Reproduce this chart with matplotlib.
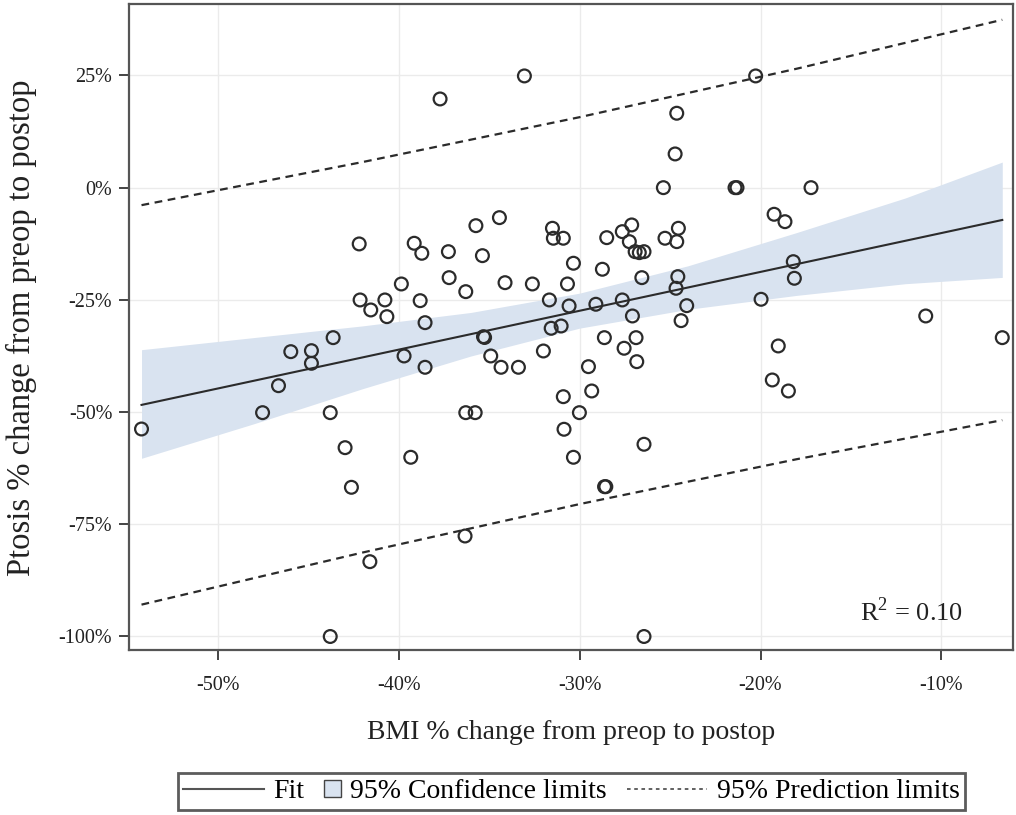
import numpy as np
import matplotlib
matplotlib.use("Agg")
import matplotlib.pyplot as plt
from matplotlib.patches import Patch, Rectangle
from matplotlib.lines import Line2D
from matplotlib.legend_handler import HandlerPatch

plt.rcParams['font.family'] = ['Liberation Serif', 'DejaVu Serif']
plt.rcParams['mathtext.fontset'] = 'custom'
plt.rcParams['mathtext.rm'] = 'Liberation Serif'

# ---- data (percent) ----
bmi_change = [
    -42.18, -39.14, -38.72, -39.85, -42.13, -41.54, -40.76, -40.65, -38.81, -38.54,
    -43.62, -45.96, -44.82, -44.82, -39.70, -38.54, -46.64, -47.52, -43.78, -54.21,
    -42.96, -39.33, -42.61, -41.59, -43.78, -36.29, -35.77, -30.01, -30.86, -30.34,
    -26.44, -28.55, -28.62, -36.33, -26.44, -25.37, -24.72, -24.63, -35.73, -34.43,
    -31.50, -31.45, -30.90, -28.50, -27.64, -27.12, -27.25, -26.93, -26.70, -26.44,
    -25.28, -24.54, -24.63, -37.25, -35.37, -30.34, -28.74, -26.56, -37.21, -36.29,
    -34.12, -32.61, -30.67, -24.57, -24.67, -31.67, -30.58, -29.10, -27.64, -24.08,
    -27.08, -24.39, -35.31, -35.25, -31.57, -31.02, -28.63, -26.88, -34.91, -34.34,
    -33.38, -32.00, -27.54, -26.84, -29.51, -30.90, -29.33, -37.71, -33.05, -20.27,
    -21.41, -21.30, -17.21, -19.25, -18.65, -18.19, -18.13, -19.97, -10.87, -6.64,
    -19.02, -19.35, -18.46,
]
ptosis_change = [
    -12.54, -12.39, -14.62, -21.46, -25.02, -27.25, -25.02, -28.74, -25.18, -30.08,
    -33.42, -36.54, -36.32, -39.13, -37.50, -40.02, -44.12, -50.13, -50.13, -53.77,
    -57.93, -60.07, -66.76, -83.33, -100.0, -50.13, -50.13, -50.13, -53.83, -60.07,
    -57.17, -66.62, -66.62, -77.61, -100.0, 0.0, 7.51, 16.58, -8.47, -6.68,
    -9.05, -11.27, -11.27, -11.14, -9.80, -8.31, -12.03, -14.26, -14.48, -14.26,
    -11.27, -9.05, -12.03, -14.26, -15.15, -16.84, -18.18, -20.05, -20.05, -23.17,
    -21.17, -21.46, -21.46, -19.83, -22.42, -25.02, -26.36, -25.98, -25.02, -26.29,
    -28.59, -29.63, -33.20, -33.38, -31.33, -30.82, -33.42, -33.42, -37.50, -40.02,
    -40.02, -36.39, -35.78, -38.77, -39.88, -46.57, -45.30, 19.76, 24.89, 24.89,
    0.0, 0.0, 0.0, -5.93, -7.58, -16.49, -20.19, -24.87, -28.59, -33.42,
    -35.27, -42.85, -45.30,
]

fit_x = [-54.21, -6.64]
fit_y = [-48.4, -7.2]

ci_x = [-54.21, -48, -42, -36, -30, -24, -18, -12, -6.64]
ci_upper = [-36.1, -33.4, -30.8, -27.8, -23.5, -17.4, -10.0, -2.3, 5.7]
ci_lower = [-60.3, -52.6, -44.8, -37.5, -31.3, -27.1, -24.0, -21.4, -20.0]

pi_x = [-54.21, -42, -30, -18, -6.64]
pi_upper = [-3.9, 5.7, 15.7, 26.5, 37.4]
pi_lower = [-92.9, -81.3, -70.5, -60.5, -51.8]

x_ticks = [-50, -40, -30, -20, -10]
y_ticks = [25, 0, -25, -50, -75, -100]
r2_text = 'R$^{2}$ = 0.10'

band_color = '#d9e3f0'
ink = '#2b2b2b'


class SquareHandler(HandlerPatch):
    # small square swatch instead of a wide rectangle
    def legend_artist(self, legend, orig_handle, fontsize, handlebox):
        side = 12.0
        handlebox.width = side
        y0 = (handlebox.height - side) / 2 - handlebox.ydescent
        rect = Rectangle((-handlebox.xdescent, y0), side, side,
                         facecolor=orig_handle.get_facecolor(),
                         edgecolor=orig_handle.get_edgecolor(), linewidth=1.0,
                         transform=handlebox.get_transform())
        handlebox.add_artist(rect)
        return rect


fig = plt.figure(figsize=(10.16, 8.15), dpi=100)
ax = fig.add_axes([0.127, 0.2025, 0.870, 0.7925])

ax.fill_between(ci_x, ci_lower, ci_upper, color=band_color, linewidth=0, zorder=1)
ax.plot(pi_x, pi_upper, color=ink, linestyle=(0, (3.5, 2.5)), linewidth=1.6, zorder=2)
ax.plot(pi_x, pi_lower, color=ink, linestyle=(0, (3.5, 2.5)), linewidth=1.6, zorder=2)
ax.plot(fit_x, fit_y, color=ink, linewidth=1.5, zorder=3)
ax.scatter(bmi_change, ptosis_change, s=85, facecolors='none', edgecolors=ink,
           linewidths=1.6, zorder=4)

ax.set_xlim(-54.9, -6.05)
ax.set_ylim(-103.0, 40.9)
ax.set_xticks(x_ticks)
ax.set_yticks(y_ticks)
ax.set_xticklabels(['-%d%%' % abs(v) for v in x_ticks])
ax.set_yticklabels([('-%d%%' % abs(v)) if v < 0 else ('%d%%' % v) for v in y_ticks])
ax.grid(True, color='#ebebeb', linewidth=1.0, zorder=0)
ax.set_axisbelow(True)

for s in ax.spines.values():
    s.set_color('#555555')
    s.set_linewidth(1.6)
ax.tick_params(axis='both', direction='out', length=7, width=1.4, color='#444444',
               labelsize=14.5, labelcolor='#222222')
ax.tick_params(axis='x', pad=12)
ax.tick_params(axis='y', pad=5)

ax.set_xlabel('BMI % change from preop to postop', fontsize=20, color='#222222', va='center')
ax.xaxis.set_label_coords(0.5, -0.128)
ax.set_ylabel('Ptosis % change from preop to postop', fontsize=23.5, color='#222222',
              va='center', ha='center')
ax.yaxis.set_label_coords(-0.122, 0.499)

ax.text(0.944, 0.06, r2_text, transform=ax.transAxes, fontsize=19, color='#222222',
        ha='right', va='center')

handles = [
    Line2D([0], [0], color='#555555', linewidth=1.5),
    Patch(facecolor=band_color, edgecolor='#444444', linewidth=1.0),
    Line2D([0], [0], color='#555555', linewidth=1.3, linestyle=(0, (2, 2))),
]
labels = ['Fit', '95% Confidence limits', '95% Prediction limits']
leg = fig.legend(handles, labels, loc='center', bbox_to_anchor=(0.5625, 0.0288), ncol=3,
                 fontsize=20, frameon=True, fancybox=False, handlelength=2.9,
                 handletextpad=0.35, columnspacing=0.7, borderpad=0.2,
                 handler_map={Patch: SquareHandler()})
leg.get_frame().set_edgecolor('#333333')
leg.get_frame().set_linewidth(2.0)

fig.savefig('out.png', dpi=100)
